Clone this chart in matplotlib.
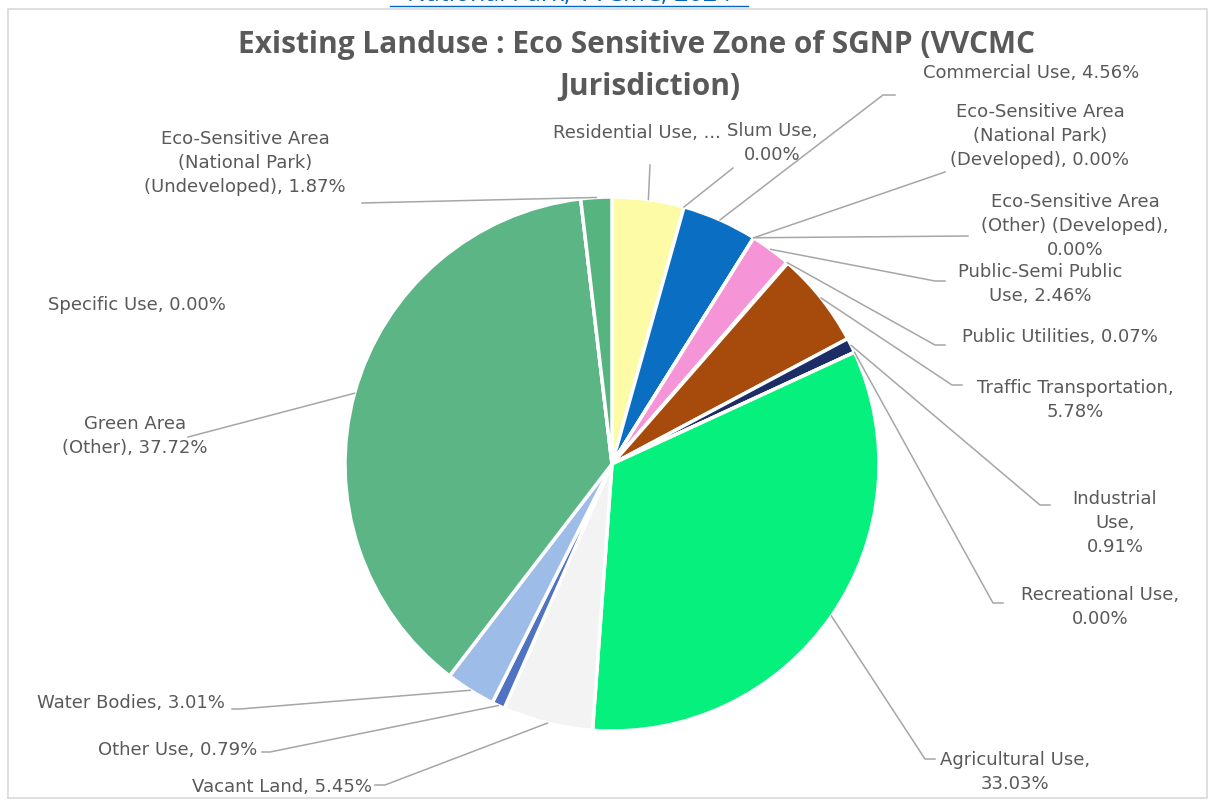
import numpy as np
import matplotlib
matplotlib.use("Agg")
import matplotlib.pyplot as plt

# ---------------------------------------------------------------------------
# Data (clockwise from 12 o'clock)
# ---------------------------------------------------------------------------
categories = [
    "Residential Use", "Slum Use", "Commercial Use",
    "Eco-Sensitive Area (National Park) (Developed)",
    "Eco-Sensitive Area (Other) (Developed)",
    "Public-Semi Public Use", "Public Utilities", "Traffic Transportation",
    "Industrial Use", "Recreational Use", "Agricultural Use", "Vacant Land",
    "Other Use", "Water Bodies", "Green Area (Other)", "Specific Use",
    "Eco-Sensitive Area (National Park) (Undeveloped)",
]
shares = [4.35, 0.00, 4.56, 0.00, 0.00, 2.46, 0.07, 5.78, 0.91, 0.00,
          33.03, 5.45, 0.79, 3.01, 37.72, 0.00, 1.87]
label_texts = [
    "Residential Use, ...", "Slum Use,\n0.00%", "Commercial Use, 4.56%",
    "Eco-Sensitive Area\n(National Park)\n(Developed), 0.00%",
    "Eco-Sensitive Area\n(Other) (Developed),\n0.00%",
    "Public-Semi Public\nUse, 2.46%", "Public Utilities, 0.07%",
    "Traffic Transportation,\n5.78%", "Industrial\nUse,\n0.91%",
    "Recreational Use,\n0.00%", "Agricultural Use,\n33.03%",
    "Vacant Land, 5.45%", "Other Use, 0.79%", "Water Bodies, 3.01%",
    "Green Area\n(Other), 37.72%", "Specific Use, 0.00%",
    "Eco-Sensitive Area\n(National Park)\n(Undeveloped), 1.87%",
]
colors = ["#FDFBA6", "#FFFFFF", "#0A6FC2", "#FFFFFF", "#FFFFFF", "#F595D8",
          "#7F7F7F", "#A64B0C", "#1D2D66", "#FFFFFF", "#05F07C", "#F3F3F3",
          "#4F72C4", "#9DBDE8", "#5CB585", "#FFFFFF", "#56B47F"]

# ---------------------------------------------------------------------------
# Layout (pixel coordinates, y measured from top)
# ---------------------------------------------------------------------------
W, H = 1213, 802
CX, CY, R = 612, 464, 267

def Y(p):
    return H - p

# text position (x, y, ha), leader end (x, y) or None, elbow dx
label_layout = [
    (637, 133, "center", (650, 165), 0),
    (772, 143, "center", (733, 168), 0),
    (1031, 73, "center", (895, 95), 12),
    (1040, 136, "center", (945, 172), 0),
    (1075, 226, "center", (968, 236), 0),
    (1040, 284, "center", (945, 281), 10),
    (1060, 337, "center", (945, 345), 10),
    (1075, 400, "center", (962, 385), 10),
    (1115, 523, "center", (1050, 505), 10),
    (1100, 607, "center", (1003, 603), 10),
    (1015, 772, "center", (935, 759), 10),
    (372, 787, "right", (375, 785), -10),
    (257, 750, "right", (262, 752), -8),
    (225, 703, "right", (232, 709), -8),
    (135, 436, "center", (188, 437), 0),
    (137, 305, "center", None, 0),
    (245, 163, "center", (362, 203), 0),
]

plt.rcParams["font.family"] = ["DejaVu Sans"]
fig = plt.figure(figsize=(W / 100, H / 100), dpi=100)
ax = fig.add_axes([0, 0, 1, 1])

# chart frame
ax.plot([8, 8, 1207, 1207, 8], [Y(798), Y(9), Y(9), Y(798), Y(798)],
        color="#D9D9D9", lw=1.2)

wedges, _ = ax.pie(shares, colors=colors, startangle=90, counterclock=False,
                   center=(CX, Y(CY)), radius=R, frame=True,
                   wedgeprops=dict(edgecolor="white", linewidth=2.5))
ax.set_xlim(0, W)
ax.set_ylim(0, H)
ax.set_aspect("equal")
ax.axis("off")

grey = "#595959"
for w, txt, lay in zip(wedges, label_texts, label_layout):
    tx, ty, ha, end, dx = lay
    ax.text(tx, Y(ty), txt, ha=ha, va="center", fontsize=13, color=grey,
            linespacing=1.45)
    if end is None:
        continue
    ang = np.deg2rad((w.theta1 + w.theta2) / 2)
    ax0 = CX + R * np.cos(ang)
    ay0 = Y(CY) + R * np.sin(ang)
    ex, ey = end
    ax.plot([ax0, ex - dx, ex], [ay0, Y(ey), Y(ey)], color="#A6A6A6", lw=1.1)

# title (two separate lines)
ax.text(636, Y(45), "Existing Landuse : Eco Sensitive Zone of SGNP (VVCMC",
        ha="center", va="center", fontsize=21.5, fontweight="bold", color=grey,
        family="Open Sans")
ax.text(650, Y(87), "Jurisdiction)",
        ha="center", va="center", fontsize=21.5, fontweight="bold", color=grey,
        family="Open Sans")

# clipped caption above the chart
ax.text(569, Y(-5), "National Park, VVCMC, 2024", ha="center", va="center",
        fontsize=18, color="#0563C1", family="Open Sans")
ax.plot([390, 748], [Y(6), Y(6)], color="#0563C1", lw=1)

fig.savefig("out.png", dpi=100)
